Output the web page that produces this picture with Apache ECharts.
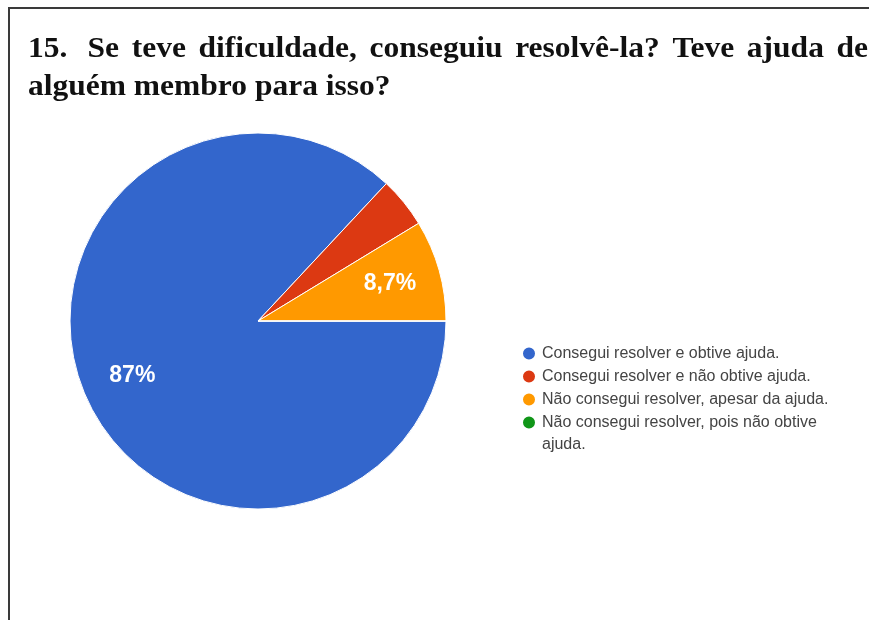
<!DOCTYPE html>
<html>
<head>
<meta charset="utf-8">
<script src="https://cdn.jsdelivr.net/npm/echarts@6/dist/echarts.min.js"></script>
<style>
html,body{margin:0;padding:0;background:#fff;}
#chart{width:869px;height:620px;}
</style>
</head>
<body>
<div id="chart"></div>
<script>
// ---- data ----
const categories = [
  'Consegui resolver e obtive ajuda.',
  'Consegui resolver e não obtive ajuda.',
  'Não consegui resolver, apesar da ajuda.',
  'Não consegui resolver, pois não obtive ajuda.'
];
const counts = [20, 1, 2, 0];
const titleLine1Words = ['15.', 'Se', 'teve', 'dificuldade,', 'conseguiu', 'resolvê-la?', 'Teve', 'ajuda', 'de'];
const titleLine2 = 'alguém membro para isso?';

// ---- styling / layout ----
const colors = ['#3366cc', '#dc3912', '#ff9900', '#109618'];
const titleSize = 30;
const titleScaleX = 1.05;
const titleFont = 'bold ' + titleSize + 'px "Liberation Serif", "Times New Roman", serif';
const titleLeft = 28, titleRight = 868;
const line1Baseline = 59, line2Baseline = 97;
const legendFont = '"Liberation Sans", Arial, sans-serif';
const legendColor = '#444';

const total = counts.reduce((a, b) => a + b, 0);
const pieData = categories.map((c, i) => ({ name: c, value: counts[i] }));

function pctLabel(p) {
  const pct = p.value / total * 100;
  if (pct < 5) return '';
  const r = Math.round(pct * 10) / 10;
  return String(r).replace('.', ',') + '%';
}

// long legend entry wraps before its last word
const lastName = categories[categories.length - 1];
const cut = lastName.lastIndexOf(' ');
const lastLine1 = lastName.slice(0, cut);
const lastLine2 = lastName.slice(cut + 1);

// justify title line 1 (first gap is a double space)
const mctx = document.createElement('canvas').getContext('2d');
mctx.font = titleFont;
const wWidths = titleLine1Words.map(w => mctx.measureText(w).width * titleScaleX);
const sumW = wWidths.reduce((a, b) => a + b, 0);
const gapWeights = titleLine1Words.slice(1).map((w, i) => i === 0 ? 1.6 : 1);
const gapUnit = (titleRight - titleLeft - sumW) / gapWeights.reduce((a, b) => a + b, 0);

const midOffset = 0.34 * titleSize;
const graphics = [
  { type: 'line', shape: { x1: 8, y1: 8, x2: 869, y2: 8 }, style: { stroke: '#3a3a3a', lineWidth: 2 }, silent: true },
  { type: 'line', shape: { x1: 9, y1: 8, x2: 9, y2: 620 }, style: { stroke: '#3a3a3a', lineWidth: 2 }, silent: true }
];
let cx = titleLeft;
titleLine1Words.forEach((w, i) => {
  graphics.push({
    type: 'text', x: cx, y: line1Baseline - midOffset, scaleX: titleScaleX, silent: true,
    style: { text: w, font: titleFont, fill: '#111', verticalAlign: 'middle' }
  });
  cx += wWidths[i] + (i < gapWeights.length ? gapWeights[i] * gapUnit : 0);
});
graphics.push({
  type: 'text', x: titleLeft, y: line2Baseline - midOffset, scaleX: titleScaleX, silent: true,
  style: { text: titleLine2, font: titleFont, fill: '#111', verticalAlign: 'middle' }
});
// wrapped continuation of the last legend entry
graphics.push({
  type: 'text', x: 542, y: 445, silent: true,
  style: { text: lastLine2, font: '16px ' + legendFont, fill: legendColor, verticalAlign: 'middle' }
});

const option = {
  animation: false,
  color: colors,
  graphic: graphics,
  legend: {
    orient: 'vertical',
    left: 516,
    top: 337,
    icon: 'circle',
    itemWidth: 16,
    itemHeight: 14,
    itemGap: 0,
    selectedMode: false,
    formatter: name => name === lastName ? lastLine1 : name,
    textStyle: {
      fontFamily: legendFont,
      fontSize: 16,
      color: legendColor,
      lineHeight: 23
    },
    data: categories
  },
  series: [
    {
      type: 'pie',
      center: [258, 321],
      radius: 188,
      startAngle: 0,
      clockwise: true,
      data: pieData,
      label: { show: false },
      labelLine: { show: false },
      itemStyle: { borderColor: '#ffffff', borderWidth: 1 },
      emphasis: { disabled: true }
    },
    {
      type: 'pie',
      center: [258, 321],
      radius: [80, 188],
      startAngle: 0,
      clockwise: true,
      silent: true,
      legendHoverLink: false,
      data: pieData,
      itemStyle: { color: 'rgba(0,0,0,0)', borderWidth: 0 },
      labelLine: { show: false },
      label: {
        show: true,
        position: 'inside',
        formatter: pctLabel,
        color: '#ffffff',
        fontFamily: '"Liberation Sans", Arial, sans-serif',
        fontWeight: 'bold',
        fontSize: 23
      },
      emphasis: { disabled: true }
    }
  ]
};

const chart = echarts.init(document.getElementById('chart'), null, { renderer: 'canvas' });
chart.setOption(option);
</script>
</body>
</html>
